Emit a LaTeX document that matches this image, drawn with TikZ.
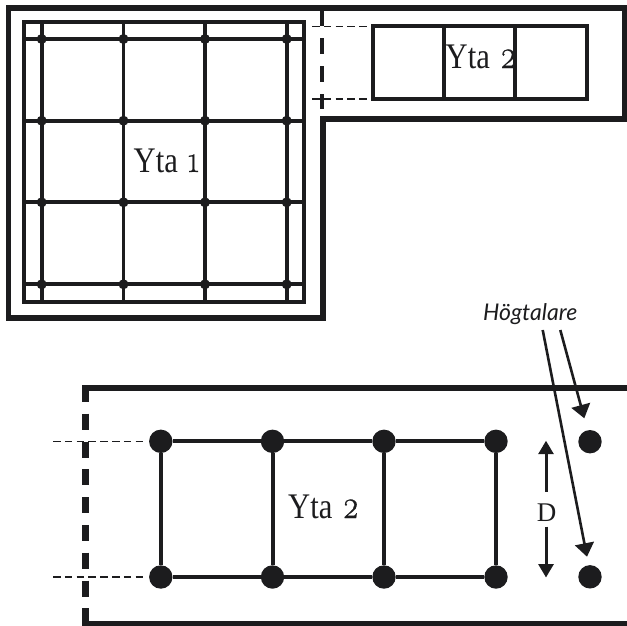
\documentclass[tikz,border=0pt]{standalone}
\usepackage{fontspec}
\usetikzlibrary{arrows.meta}
\newfontfamily\labfont[FakeStretch=0.85]{Liberation Serif}
\newfontfamily\dimfont{Liberation Serif}
\newfontfamily\numfont[Numbers=OldStyle,FakeBold=0.5,FakeStretch=0.8]{Latin Modern Roman}
\newfontfamily\notefont[ItalicFont=Lato Italic]{Lato}
\definecolor{ink}{HTML}{1C1C1E}
\newcommand{\ytatext}[2]{{\labfont\fontsize{36}{36}\selectfont Yta\hspace{10pt}}{\numfont\fontsize{#1}{36}\selectfont #2}}
\tikzset{
  wall/.style={draw=ink,line width=5.5pt,line join=miter},
  wallb/.style={draw=ink,line width=6pt},
  gridline/.style={draw=ink,line width=3.8pt},
  biggrid/.style={draw=ink,line width=4pt},
  opening/.style={draw=ink,line width=4.6pt,dash pattern=on 15.5pt off 12.5pt},
  openingb/.style={draw=ink,line width=6.2pt,dash pattern=on 16pt off 11.8pt},
  guide/.style={draw=ink,line width=1.5pt,dash pattern=on 7.5pt off 4.3pt},
  smalldot/.style={circle,fill=ink,inner sep=0pt,minimum size=10pt},
  bigdot/.style={circle,fill=ink,inner sep=0pt,minimum size=23.4pt},
  arrowd/.style={draw=ink,line width=3pt,-{Triangle[length=13.5pt,width=15pt]}},
  arrowh/.style={draw=ink,line width=2.6pt,-{Triangle[length=13.5pt,width=19pt]}},
  lab/.style={text=ink,inner sep=0pt,anchor=base west},
}
\begin{document}
\begin{tikzpicture}[x=1pt,y=-1pt]
\useasboundingbox (0,0) rectangle (627,625);
% upper plan: outer wall
\coordinate (w1) at (8.5,8);
\coordinate (w2) at (624.5,8);
\coordinate (w3) at (624.5,119);
\coordinate (w4) at (323,119);
\coordinate (w5) at (323,318);
\coordinate (w6) at (8.5,318);
\draw[wall] (w1) -- (w2) -- (w3) -- (w4) -- (w5) -- (w6) -- cycle;
% area 1 frame
\coordinate (a1nw) at (24,22);
\coordinate (a1se) at (304,302);
\draw[gridline,line width=4pt] (a1nw) rectangle (a1se);
% area 1 grid
\foreach \i/\x in {1/41.7,2/123.5,3/205,4/286.7}{
  \coordinate (vt\i) at (\x,22);
  \coordinate (vb\i) at (\x,302);
  \draw[gridline] (vt\i) -- (vb\i);
}
\foreach \j/\y in {1/39,2/120.7,3/202.3,4/284.3}{
  \coordinate (hl\j) at (24,\y);
  \coordinate (hr\j) at (304,\y);
  \draw[gridline] (hl\j) -- (hr\j);
}
\foreach \i/\x in {1/41.7,2/123.5,3/205,4/286.7}{
  \foreach \j/\y in {1/39,2/120.7,3/202.3,4/284.3}{
    \node[smalldot] (s\i\j) at (\x,\y) {};
  }
}
\node[lab] (yta1) at (133.5,172) {\ytatext{38}{1}};
% opening in the upper plan
\coordinate (o1) at (322,10);
\coordinate (o2) at (322,109);
\draw[opening] (o1) -- (o2);
% area 2 in the upper plan
\coordinate (r1) at (372.7,26.3);
\coordinate (r2) at (586.7,98.5);
\draw[gridline,line width=4pt] (r1) rectangle (r2);
\coordinate (rt1) at (444,26.3);
\coordinate (rb1) at (444,98.5);
\coordinate (rt2) at (515,26.3);
\coordinate (rb2) at (515,98.5);
\draw[gridline] (rt1) -- (rb1);
\draw[gridline] (rt2) -- (rb2);
\coordinate (g1) at (312,26.3);
\coordinate (g2) at (312,99);
\coordinate (r1s) at (372,26.3);
\coordinate (r2s) at (372,99);
\draw[guide] (g1) -- (r1s);
\draw[guide] (g2) -- (r2s);
\node[lab] (yta2a) at (445.5,68) {\ytatext{40}{2}};
% lower plan
\coordinate (l1) at (82.3,387.5);
\coordinate (l2) at (630,387.5);
\coordinate (l3) at (82.3,623);
\coordinate (l4) at (630,623);
\draw[wallb] (l1) -- (l2);
\draw[wallb,line width=5pt] (l3) -- (l4);
\coordinate (lo1) at (85.4,385.9);
\coordinate (lo2) at (85.4,625);
\draw[openingb] (lo1) -- (lo2);
% lower grid
\foreach \i/\x in {1/160.8,2/272.5,3/384,4/496}{
  \node[bigdot] (t\i) at (\x,441.3) {};
  \node[bigdot] (b\i) at (\x,577) {};
}
\draw[biggrid] (t1) -- (t2);
\draw[biggrid] (t2) -- (t3);
\draw[biggrid] (t3) -- (t4);
\draw[biggrid] (b1) -- (b2);
\draw[biggrid] (b2) -- (b3);
\draw[biggrid] (b3) -- (b4);
\foreach \i in {1,2,3,4}{ \draw[biggrid] (t\i) -- (b\i); }
\coordinate (lg1) at (53,441.3);
\coordinate (lg2) at (53,577);
\coordinate (lg1e) at (143,441.3);
\coordinate (lg2e) at (143,577);
\draw[guide] (lg1) -- (lg1e);
\draw[guide] (lg2) -- (lg2e);
\node[lab] (yta2b) at (288,518) {\ytatext{40}{2}};
% speakers
\node[bigdot] (sp1) at (590,441.7) {};
\node[bigdot] (sp2) at (590,576.8) {};
% dimension
\node[text=ink,inner sep=0pt,anchor=base,font=\dimfont\fontsize{27}{27}\selectfont] (dim) at (546.5,521) {D};
\coordinate (dt) at (546,440.7);
\coordinate (dts) at (546,491.7);
\coordinate (db) at (546,577.5);
\coordinate (dbs) at (546,526.7);
\draw[arrowd] (dts) -- (dt);
\draw[arrowd] (dbs) -- (db);
% label
\node[text=ink,inner sep=0pt,anchor=base west,font=\notefont\itshape\fontsize{23}{23}\selectfont] (hog) at (483,320) {Högtalare};
\coordinate (h1) at (560.3,330);
\coordinate (h1e) at (584.3,418.3);
\coordinate (h2) at (542.7,330);
\coordinate (h2e) at (587,556.7);
\draw[arrowh] (h1) -- (h1e);
\draw[arrowh] (h2) -- (h2e);
\end{tikzpicture}
\end{document}
